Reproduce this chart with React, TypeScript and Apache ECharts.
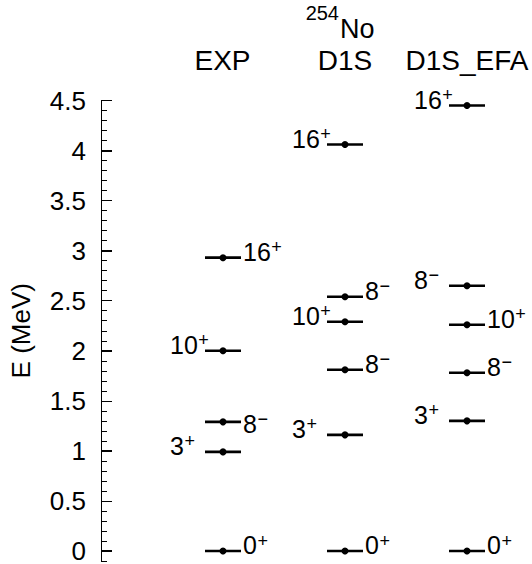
import React, { useEffect, useRef } from 'react';
import * as echarts from 'echarts';

// Columns (calculations / experiment)
const columns = ['EXP', 'D1S', 'D1S_EFA'];
const nucleusMass = '254';
const nucleusSymbol = 'No';

// Level energies (MeV), spins, parities and label side per column
const expEnergy = [0, 0.99, 1.29, 2.0, 2.93];
const expSpin = ['0', '3', '8', '10', '16'];
const expParity = ['+', '+', '−', '+', '+'];
const expSide = ['R', 'L', 'R', 'L', 'R'];

const d1sEnergy = [0, 1.16, 1.81, 2.29, 2.54, 4.06];
const d1sSpin = ['0', '3', '8', '10', '8', '16'];
const d1sParity = ['+', '+', '−', '+', '−', '+'];
const d1sSide = ['R', 'L', 'R', 'L', 'R', 'L'];

const efaEnergy = [0, 1.3, 1.78, 2.26, 2.65, 4.45];
const efaSpin = ['0', '3', '8', '10', '8', '16'];
const efaParity = ['+', '+', '−', '+', '−', '+'];
const efaSide = ['R', 'L', 'R', 'R', 'L', 'L'];

// Axis ticks
const yMajorTicks = [0, 0.5, 1, 1.5, 2, 2.5, 3, 3.5, 4, 4.5];
const yIntegerTicks = [0, 1, 2, 3, 4];
const yTickLabels = ['0', '0.5', '1', '1.5', '2', '2.5', '3', '3.5', '4', '4.5'];
const yAxisName = 'E (MeV)';

const FONT = '"Liberation Sans", Arial, Helvetica, sans-serif';

type Level = { col: number; e: number; spin: string; parity: string; side: string; nudge: number };

const levels: Level[] = [];
const addColumn = (col: number, en: number[], sp: string[], pa: string[], si: string[]) => {
  en.forEach((e, i) => levels.push({ col, e, spin: sp[i], parity: pa[i], side: si[i], nudge: 0 }));
};
addColumn(1, expEnergy, expSpin, expParity, expSide);
addColumn(2, d1sEnergy, d1sSpin, d1sParity, d1sSide);
addColumn(3, efaEnergy, efaSpin, efaParity, efaSide);
// the EXP 8− label sits a little lower in the original
levels[2].nudge = 8;

const minorTicks: number[] = [];
for (let i = -1; i <= 45; i++) {
  if (i % 5 !== 0) minorTicks.push(Math.round(i) / 10);
}

let ctx2d: CanvasRenderingContext2D | null = null;
const measure = (t: string, size: number) => {
  if (!ctx2d) ctx2d = document.createElement('canvas').getContext('2d');
  if (!ctx2d) return t.length * size * 0.556;
  ctx2d.font = `${size}px ${FONT}`;
  return ctx2d.measureText(t).width;
};

export default function App() {
  const ref = useRef<HTMLDivElement>(null);
  useEffect(() => {
    if (!ref.current) return;
    const chart = echarts.init(ref.current, null, { renderer: 'svg' });
    const MAIN = 25;
    const SUP = 18;
    const HALF = 18;
    const option: any = {
      animation: false,
      backgroundColor: '#fff',
      grid: { left: 101, right: 4, top: 100.5, bottom: 1.5, containLabel: false },
      xAxis: { type: 'value', min: 0, max: 3.5, show: false },
      yAxis: [
        {
          type: 'value',
          min: -0.1,
          max: 4.5,
          name: yAxisName,
          nameLocation: 'middle',
          nameGap: 67,
          nameTextStyle: { fontSize: 26, color: '#000', fontFamily: FONT },
          axisLine: { show: true, lineStyle: { color: '#000', width: 1 } },
          axisTick: { show: true, inside: true, length: 11, customValues: yMajorTicks, lineStyle: { color: '#000', width: 1 } },
          axisLabel: {
            show: true,
            customValues: yMajorTicks,
            margin: 15,
            fontSize: 26,
            color: '#000',
            fontFamily: FONT,
            formatter: (v: number) => {
              const i = yMajorTicks.findIndex((t) => Math.abs(t - v) < 1e-6);
              return i >= 0 ? yTickLabels[i] : '';
            },
          },
          splitLine: { show: false },
        },
        {
          type: 'value',
          min: -0.1,
          max: 4.5,
          position: 'left',
          axisLine: { show: false },
          axisTick: { show: true, inside: true, length: 6, customValues: minorTicks, lineStyle: { color: '#000', width: 1 } },
          axisLabel: { show: false },
          splitLine: { show: false },
        },
        {
          type: 'value',
          min: -0.1,
          max: 4.5,
          position: 'left',
          axisLine: { show: false },
          axisTick: { show: true, inside: true, length: 11, customValues: yIntegerTicks, lineStyle: { color: '#000', width: 2 } },
          axisLabel: { show: false },
          splitLine: { show: false },
        },
      ],
      graphic: [
        ...columns.map((c, i) => ({
          type: 'text',
          x: [222.5, 345, 467][i],
          y: 60,
          style: { text: c, font: `28px ${FONT}`, fill: '#000', align: 'center', verticalAlign: 'middle' },
        })),
        {
          type: 'text',
          x: 340,
          y: 29,
          style: { text: nucleusSymbol, font: `27px ${FONT}`, fill: '#000', align: 'left', verticalAlign: 'middle' },
        },
        {
          type: 'text',
          x: 339,
          y: 13,
          style: { text: nucleusMass, font: `20px ${FONT}`, fill: '#000', align: 'right', verticalAlign: 'middle' },
        },
      ],
      series: [
        {
          type: 'custom',
          coordinateSystem: 'cartesian2d',
          yAxisIndex: 0,
          clip: false,
          data: levels.map((l) => [l.col, l.e]),
          renderItem: (params: any, api: any) => {
            const lv = levels[params.dataIndex];
            const [cx, cy] = api.coord([api.value(0), api.value(1)]);
            const mainW = measure(lv.spin, MAIN);
            const x0 = lv.side === 'R' ? cx + HALF + 2 : cx - 53;
            const base = cy + 3 + lv.nudge;
            return {
              type: 'group',
              children: [
                {
                  type: 'line',
                  shape: { x1: cx - HALF, y1: cy, x2: cx + HALF, y2: cy },
                  style: { stroke: '#000', lineWidth: 2.6 },
                },
                {
                  type: 'circle',
                  shape: { cx, cy, r: 3.5 },
                  style: { fill: '#000' },
                },
                {
                  type: 'text',
                  x: x0,
                  y: base - 0.35 * MAIN,
                  style: { text: lv.spin, font: `${MAIN}px ${FONT}`, fill: '#000', align: 'left', verticalAlign: 'middle' },
                },
                {
                  type: 'text',
                  x: x0 + mainW + 0.5,
                  y: base - 0.716 * MAIN + 4.5,
                  style: { text: lv.parity, font: `${SUP}px ${FONT}`, fill: '#000', align: 'left', verticalAlign: 'middle' },
                },
              ],
            };
          },
        },
      ],
    };
    chart.setOption(option);
    return () => chart.dispose();
  }, []);
  return (
    <div
      ref={ref}
      style={{ position: 'fixed', left: 0, top: 0, width: 532, height: 564, background: '#fff' }}
    />
  );
}
